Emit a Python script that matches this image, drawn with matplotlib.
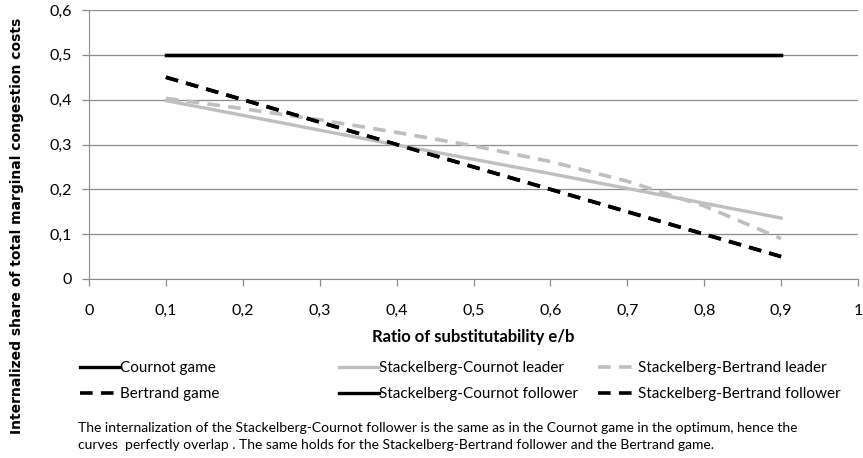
import matplotlib
matplotlib.use("Agg")
import matplotlib.pyplot as plt

# values
x_ratio = [0.1, 0.2, 0.3, 0.4, 0.5, 0.6, 0.7, 0.8, 0.9]
cournot = [0.5, 0.5, 0.5, 0.5, 0.5, 0.5, 0.5, 0.5, 0.5]
bertrand = [0.45, 0.40, 0.35, 0.30, 0.25, 0.20, 0.15, 0.10, 0.05]
sc_leader = [0.398, 0.365, 0.332, 0.299, 0.267, 0.235, 0.202, 0.169, 0.136]
sc_follower = [0.5, 0.5, 0.5, 0.5, 0.5, 0.5, 0.5, 0.5, 0.5]
sb_leader = [0.403, 0.380, 0.355, 0.327, 0.297, 0.262, 0.218, 0.163, 0.090]
sb_follower = [0.45, 0.40, 0.35, 0.30, 0.25, 0.20, 0.15, 0.10, 0.05]

xticks = [0, 0.1, 0.2, 0.3, 0.4, 0.5, 0.6, 0.7, 0.8, 0.9, 1]
yticks = [0, 0.1, 0.2, 0.3, 0.4, 0.5, 0.6]

note = ("The internalization of the Stackelberg-Cournot follower is the same as in the Cournot game in the optimum, hence the\n"
        "curves  perfectly overlap . The same holds for the Stackelberg-Bertrand follower and the Bertrand game.")

plt.rcParams['font.family'] = ["Lato", "DejaVu Sans"]

W, H = 863, 458
fig = plt.figure(figsize=(W / 100, H / 100), dpi=100)
ax = fig.add_axes([89 / W, 1 - 279 / H, (858 - 89) / W, (279 - 10) / H])

dash = (3.5, 2.3)
h_c, = ax.plot(x_ratio, cournot, color="black", lw=2.4)
h_b, = ax.plot(x_ratio, bertrand, color="black", lw=2.6, dashes=dash)
h_scl, = ax.plot(x_ratio, sc_leader, color="#bfbfbf", lw=2.4)
h_scf, = ax.plot(x_ratio, sc_follower, color="black", lw=2.4)
h_sbl, = ax.plot(x_ratio, sb_leader, color="#bfbfbf", lw=2.6, dashes=dash)
h_sbf, = ax.plot(x_ratio, sb_follower, color="black", lw=2.6, dashes=dash)

ax.set_xlim(0, 1)
ax.set_ylim(0, 0.6)
ax.set_xticks(xticks)
ax.set_yticks(yticks)
fmt = lambda v: ("%g" % v).replace(".", ",")
ax.set_xticklabels([fmt(v) for v in xticks], fontsize=11.5)
ax.set_yticklabels([fmt(v) for v in yticks], fontsize=11.5)
ax.yaxis.grid(True, color="#8c8c8c", lw=0.9)
ax.set_axisbelow(True)
for s in ["top", "right"]:
    ax.spines[s].set_visible(False)
for s in ["left", "bottom"]:
    ax.spines[s].set_color("#8c8c8c")
ax.tick_params(axis="both", colors="#8c8c8c", labelcolor="black", length=5, width=0.9)
ax.tick_params(axis="x", pad=13)
ax.tick_params(axis="y", pad=7)

fig.text(473 / W, 1 - 337 / H, "Ratio of substitutability e/b", ha="center", va="center",
         fontsize=12, fontweight="bold")
fig.text(17 / W, 1 - 226 / H, "Internalized share of total marginal congestion costs",
         rotation=90, ha="center", va="center", fontsize=10, fontweight="bold",
         family="DejaVu Sans")

# legend: three columns, each its own box
cols = [([h_c, h_b], ["Cournot game", "Bertrand game"], 80),
        ([h_scl, h_scf], ["Stackelberg-Cournot leader", "Stackelberg-Cournot follower"], 339),
        ([h_sbl, h_sbf], ["Stackelberg-Bertrand leader", "Stackelberg-Bertrand follower"], 598)]
for hs, labs, x0 in cols:
    fig.legend(hs, labs, loc="upper left", bbox_to_anchor=(x0 / W, 1 - 361 / H),
               frameon=False, fontsize=11, handlelength=2.6, handletextpad=0.0,
               labelspacing=0.78, borderpad=0, borderaxespad=0)

fig.text(78 / W, 1 - 436.5 / H, note, ha="left", va="center", fontsize=10, linespacing=1.55)

fig.savefig("out.png", dpi=100)
